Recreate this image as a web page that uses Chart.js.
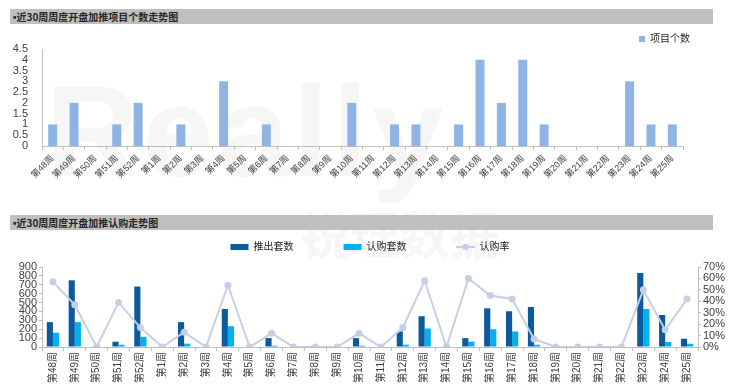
<!DOCTYPE html>
<html>
<head>
<meta charset="utf-8">
<script src="https://cdn.jsdelivr.net/npm/chart.js@4"></script>
<style>
    body { margin: 0; width: 740px; height: 390px; background: #fff; position: relative; overflow: hidden; font-family: 'Noto Sans CJK SC', sans-serif; }
    .bar { position: absolute; left: 10px; width: 700px; height: 15px; background: #BFBFBF; color: #262626; font-size: 10px; font-weight: bold; line-height: 15px; padding-left: 3px; }
    .bar span { font-family: 'Liberation Sans'; }
    .wm { position: absolute; color: #F6F6F6; font-weight: bold; white-space: nowrap; }
    canvas { position: absolute; left: 0; }
</style>
</head>
<body>
<div class="wm" style="left:46px; top:58px; font-size:128px; font-family:'Liberation Sans'; letter-spacing:4px;">Really</div>
<div class="wm" style="left:300px; top:196px; font-size:50px;">锐理数据</div>
<div class="bar" style="top:9px;"><span>•</span>近30周周度开盘加推项目个数走势图</div>
<div class="bar" style="top:215px;"><span>•</span>近30周周度开盘加推认购走势图</div>
<canvas id="projectChart" width="740" height="181" style="top:24px;"></canvas>
<canvas id="salesChart" width="740" height="198" style="top:192px;"></canvas>
<script>
// week labels, shared by both charts
const weeks = ['第48周', '第49周', '第50周', '第51周', '第52周', '第1周', '第2周', '第3周', '第4周', '第5周',
    '第6周', '第7周', '第8周', '第9周', '第10周', '第11周', '第12周', '第13周', '第14周', '第15周',
    '第16周', '第17周', '第18周', '第19周', '第20周', '第21周', '第22周', '第23周', '第24周', '第25周'];

// top chart: number of projects
const projectCounts = [1, 2, 0, 1, 2, 0, 1, 0, 3, 0, 1, 0, 0, 0, 2, 0, 1, 1, 0, 1, 4, 2, 4, 1, 0, 0, 0, 3, 1, 1];

// bottom chart: units launched / subscribed, and subscription rate (%)
const launchedUnits = [280, 750, 0, 60, 680, 0, 280, 0, 428, 0, 100, 0, 0, 0, 100, 0, 175, 346, 0, 100, 435, 402, 450, 0, 0, 0, 0, 833, 360, 93];
const subscribedUnits = [160, 280, 0, 25, 115, 0, 37, 0, 234, 0, 15, 0, 0, 0, 15, 0, 26, 208, 0, 60, 200, 175, 26, 0, 0, 0, 0, 428, 56, 37];
const subscribeRate = [57, 37, 0, 39, 17, 0, 13, 0, 54, 0, 12, 0, 0, 0, 12, 0, 17, 58, 0, 60, 45, 42, 7, 0, 0, 0, 0, 50, 15, 42];

const axisColor = '#BFBFBF';
const tickColor = '#404040';
const rateColor = '#C5CFE6';

Chart.defaults.font.family = "'Liberation Sans', 'Noto Sans CJK SC', sans-serif";
Chart.defaults.animation = false;

// Project count chart
const projectCtx = document.getElementById('projectChart').getContext('2d');
new Chart(projectCtx, {
    type: 'bar',
    data: {
        labels: weeks,
        datasets: [{
            label: '项目个数',
            data: projectCounts,
            backgroundColor: '#8DB4E2',
            barPercentage: 0.42,
            categoryPercentage: 1
        }]
    },
    options: {
        responsive: false,
        layout: { padding: { left: 0, right: 40, top: 0, bottom: 0 } },
        plugins: {
            tooltip: { enabled: false },
            legend: {
                position: 'top',
                align: 'end',
                maxHeight: 25,
                labels: {
                    usePointStyle: true,
                    pointStyle: 'rect',
                    pointStyleWidth: 6,
                    boxHeight: 6,
                    padding: 10,
                    color: '#262626',
                    font: { size: 10 }
                }
            }
        },
        scales: {
            x: {
                grid: { display: true, drawOnChartArea: false, offset: true, color: axisColor, tickLength: 4 },
                border: { color: axisColor },
                ticks: { minRotation: 45, maxRotation: 45, autoSkip: false, color: tickColor, font: { size: 9 }, padding: 3 },
                afterFit: scale => { scale.height = 59; }
            },
            y: {
                min: 0,
                max: 4.5,
                grid: { display: false },
                border: { display: true, color: axisColor },
                ticks: { stepSize: 0.5, autoSkip: false, color: tickColor, font: { size: 11 }, padding: 6, callback: v => String(v) },
                afterFit: scale => { scale.width = 42; }
            },
            yPad: {
                position: 'right',
                grid: { display: false },
                border: { display: false },
                ticks: { display: false },
                afterFit: scale => { scale.width = 17; }
            }
        }
    }
});

// small image for the rate legend item: line with a dot
const rateIcon = document.createElement('canvas');
rateIcon.width = 19;
rateIcon.height = 8;
const ic = rateIcon.getContext('2d');
ic.strokeStyle = rateColor;
ic.lineWidth = 2;
ic.beginPath();
ic.moveTo(0, 4);
ic.lineTo(19, 4);
ic.stroke();
ic.fillStyle = rateColor;
ic.beginPath();
ic.arc(9.5, 4, 3.2, 0, Math.PI * 2);
ic.fill();

// Launch / subscription chart
const salesCtx = document.getElementById('salesChart').getContext('2d');
new Chart(salesCtx, {
    type: 'bar',
    data: {
        labels: weeks,
        datasets: [{
            label: '推出套数',
            data: launchedUnits,
            backgroundColor: '#0A5A9C',
            barPercentage: 1,
            categoryPercentage: 0.56,
            order: 1
        }, {
            label: '认购套数',
            data: subscribedUnits,
            backgroundColor: '#00B0F0',
            barPercentage: 1,
            categoryPercentage: 0.56,
            order: 1
        }, {
            type: 'line',
            label: '认购率',
            data: subscribeRate,
            yAxisID: 'yR',
            borderColor: rateColor,
            backgroundColor: rateColor,
            borderWidth: 2,
            pointRadius: 3.5,
            pointBorderWidth: 0,
            pointBackgroundColor: rateColor,
            tension: 0,
            order: 0
        }]
    },
    options: {
        responsive: false,
        layout: { padding: 0 },
        plugins: {
            tooltip: { enabled: false },
            legend: {
                position: 'top',
                align: 'center',
                labels: {
                    usePointStyle: true,
                    pointStyleWidth: 18,
                    boxHeight: 6,
                    padding: 50,
                    color: '#262626',
                    font: { size: 10 },
                    sort: (a, b) => a.datasetIndex - b.datasetIndex,
                    generateLabels: chart => {
                        const items = Chart.defaults.plugins.legend.labels.generateLabels(chart);
                        items.forEach(item => {
                            item.lineWidth = 0;
                            item.pointStyle = item.datasetIndex === 2 ? rateIcon : 'rect';
                        });
                        return items;
                    }
                }
            }
        },
        scales: {
            x: {
                grid: { display: true, drawOnChartArea: false, offset: true, color: axisColor, tickLength: 4 },
                border: { color: axisColor },
                ticks: { minRotation: 90, maxRotation: 90, autoSkip: false, color: tickColor, font: { size: 10 }, padding: 1 },
                afterFit: scale => { scale.height = 43; }
            },
            xTopPad: {
                type: 'category',
                position: 'top',
                grid: { display: false },
                border: { display: false },
                ticks: { display: false },
                afterFit: scale => { scale.height = 5; }
            },
            y: {
                min: 0,
                max: 900,
                grid: { display: true, drawOnChartArea: false, color: axisColor, tickLength: 3 },
                border: { color: axisColor },
                ticks: { stepSize: 100, autoSkip: false, color: tickColor, font: { size: 11 }, padding: 2 },
                afterFit: scale => { scale.width = 42; }
            },
            yR: {
                position: 'right',
                min: 0,
                max: 70,
                grid: { display: true, drawOnChartArea: false, color: axisColor, tickLength: 3 },
                border: { color: axisColor },
                ticks: { stepSize: 10, autoSkip: false, color: tickColor, font: { size: 11 }, padding: 2, callback: v => v + '%' },
                afterFit: scale => { scale.width = 42; }
            }
        }
    }
});
</script>
</body>
</html>
